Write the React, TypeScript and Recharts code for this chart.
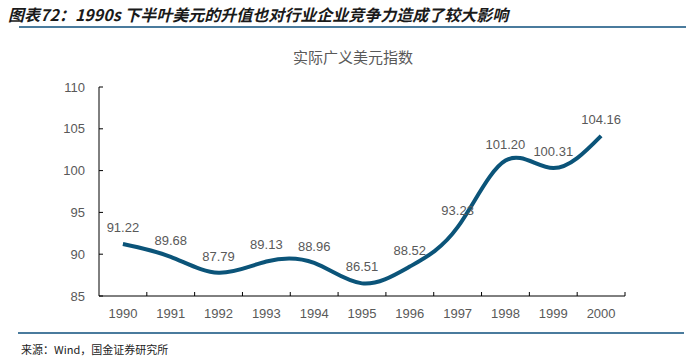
import React from "react";
import { LineChart, Line, XAxis, YAxis, LabelList } from "recharts";

const years = ["1990", "1991", "1992", "1993", "1994", "1995", "1996", "1997", "1998", "1999", "2000"];
const dollarIndex = [91.22, 89.68, 87.79, 89.13, 88.96, 86.51, 88.52, 93.23, 101.2, 100.31, 104.16];
const yTicks = [85, 90, 95, 100, 105, 110];

const data = years.map((year, i) => ({ year, value: dollarIndex[i] }));

const GRAY = "#595959";
const FONT = "Arial, 'Liberation Sans', 'Noto Sans CJK SC', sans-serif";

// x tick: label at band centre, tick mark at band boundary pointing up
const XTick = (props: any) => {
  const { x, y, payload, tickSize = 6, tickMargin = 2 } = props;
  const axisY = y - tickSize - tickMargin;
  const half = payload?.offset ?? 0;
  return (
    <g>
      <line x1={x + half} x2={x + half} y1={axisY} y2={axisY - 4} stroke="#000" />
      <text x={x} y={axisY + 17} dy="0.35em" textAnchor="middle" fill={GRAY} fontSize={13} fontFamily={FONT}>
        {payload.value}
      </text>
    </g>
  );
};

const YTick = (props: any) => {
  const { x, y, payload, tickSize = 6, tickMargin = 2 } = props;
  const axisX = x + tickSize + tickMargin;
  return (
    <g>
      <line x1={axisX} x2={axisX + 4} y1={y} y2={y} stroke="#000" />
      <text x={axisX - 14} y={y} dy="0.35em" textAnchor="end" fill={GRAY} fontSize={13} fontFamily={FONT}>
        {payload.value}
      </text>
    </g>
  );
};

export default function App() {
  return (
    <div style={{ position: "absolute", left: 0, top: 0, width: 686, height: 363, background: "#fff", fontFamily: FONT }}>
      <div
        style={{
          position: "absolute",
          left: 8,
          top: 2,
          fontSize: 16,
          fontWeight: "bold",
          fontStyle: "italic",
          color: "#1a1a1a",
          whiteSpace: "nowrap",
          fontFamily: "'Noto Sans CJK SC', sans-serif",
        }}
      >
        图表72：1990s 下半叶美元的升值也对行业企业竞争力造成了较大影响
      </div>
      <div style={{ position: "absolute", left: 19, right: 0, top: 26, height: 2, background: "#4a7b9d" }} />
      <div
        style={{
          position: "absolute",
          left: 0,
          width: 686,
          top: 46,
          textAlign: "center",
          fontSize: 15,
          color: GRAY,
          paddingLeft: 10,
          fontFamily: "'Noto Sans CJK SC', sans-serif",
        }}
      >
        实际广义美元指数
      </div>
      <div style={{ position: "absolute", left: 0, top: 0 }}>
        <LineChart width={686} height={363} data={data} margin={{ top: 87, right: 61, left: 0, bottom: 37 }}>
          <XAxis
            dataKey="year"
            scale="band"
            height={30}
            axisLine={{ stroke: "#000" }}
            tickLine={false}
            tick={<XTick />}
            interval={0}
          />
          <YAxis
            width={99}
            domain={[85, 110]}
            ticks={yTicks}
            axisLine={{ stroke: "#000" }}
            tickLine={false}
            tick={<YTick />}
            interval={0}
          />
          <Line
            type="natural"
            dataKey="value"
            stroke="#0b5479"
            strokeWidth={4}
            dot={false}
            isAnimationActive={false}
          >
            <LabelList
              dataKey="value"
              position="top"
              offset={12}
              formatter={(v: any) => Number(v).toFixed(2)}
              fill={GRAY}
              fontSize={13}
              fontFamily={FONT}
            />
          </Line>
        </LineChart>
      </div>
      <div style={{ position: "absolute", left: 18, right: 2, top: 332, height: 2, background: "#4a7b9d" }} />
      <div
        style={{
          position: "absolute",
          left: 21,
          top: 341,
          fontSize: 11,
          color: "#222",
          fontFamily: "'Noto Sans CJK SC', monospace",
        }}
      >
        来源：Wind，国金证券研究所
      </div>
    </div>
  );
}
